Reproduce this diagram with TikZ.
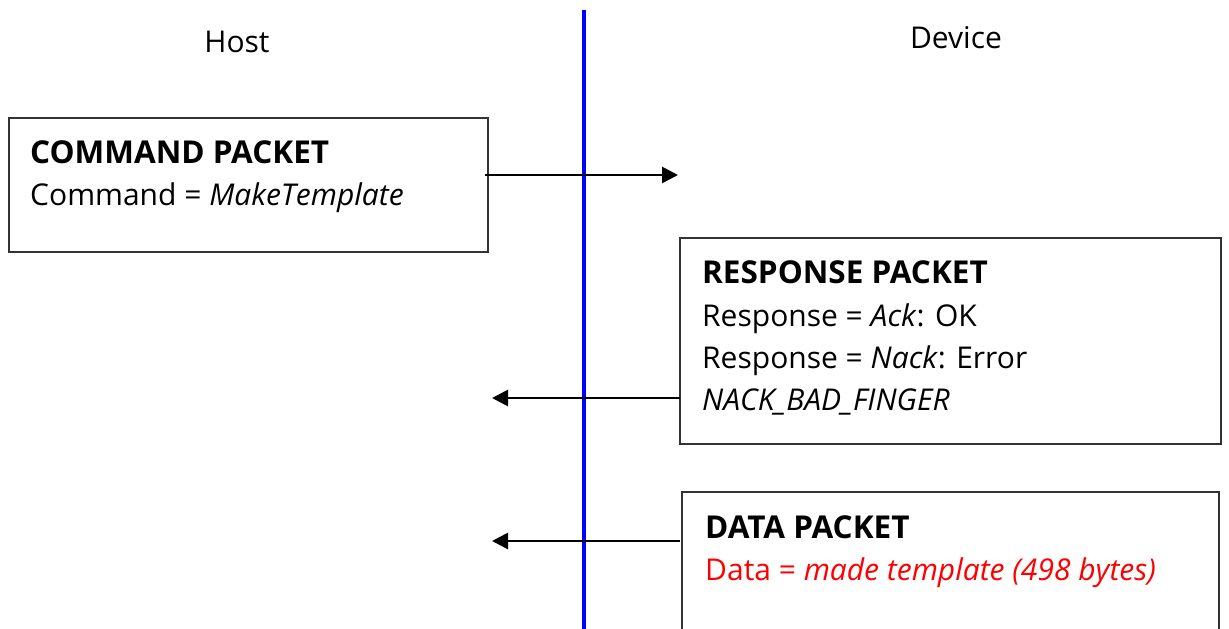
\documentclass[tikz,border=0pt]{standalone}
\usepackage{fontspec}
\setmainfont{Open Sans}
\usetikzlibrary{arrows.meta}
\begin{document}
\begin{tikzpicture}[x=1pt,y=-1pt,
  box/.style={draw=black!80,line width=2pt},
  txt/.style={anchor=base west,inner sep=0pt,font=\fontsize{30}{36}\selectfont},
  btxt/.style={txt,font=\fontsize{31.5}{36}\selectfont\bfseries},
  lbl/.style={anchor=center,inner sep=0pt,font=\fontsize{30}{36}\selectfont},
  msg/.style={line width=2.8pt,-{Triangle[length=16pt,width=16pt]}}]
\useasboundingbox (0,0) rectangle (1229,629);
\draw[blue,line width=4pt] (584,10) -- (584,629);
\node[lbl] (host) at (237,42) {Host};
\node[lbl] (dev) at (956,38) {Device};
% command box
\draw[box] (9,118) rectangle (488,252);
\node[btxt] (c1) at (30,163) {COMMAND PACKET};
\node[txt] (c2) at (30,205) {Command = \textit{MakeTemplate}};
\coordinate (cs) at (485,175);
\coordinate (ce) at (678,175);
\draw[msg] (cs) -- (ce);
% response box
\draw[box] (680,238) rectangle (1221,444);
\node[btxt] (r1) at (702,283) {RESPONSE PACKET};
\node[txt] (r2) at (702,326) {Response = \textit{Ack}: OK};
\node[txt] (r3) at (702,368) {Response = \textit{Nack}: Error};
\node[txt] (r4) at (702,410) {\textit{NACK\_BAD\_FINGER}};
\coordinate (rs) at (680,398);
\coordinate (re) at (492,398);
\draw[msg] (rs) -- (re);
% data box
\draw[box] (682,640) -- (682,492) -- (1219,492) -- (1219,640);
\node[btxt] (d1) at (705,538) {DATA PACKET};
\node[txt,text=red] (d2) at (705,580) {Data = \textit{made template (498 bytes)}};
\coordinate (ds) at (680,541);
\coordinate (de) at (492,541);
\draw[msg] (ds) -- (de);
\end{tikzpicture}
\end{document}
